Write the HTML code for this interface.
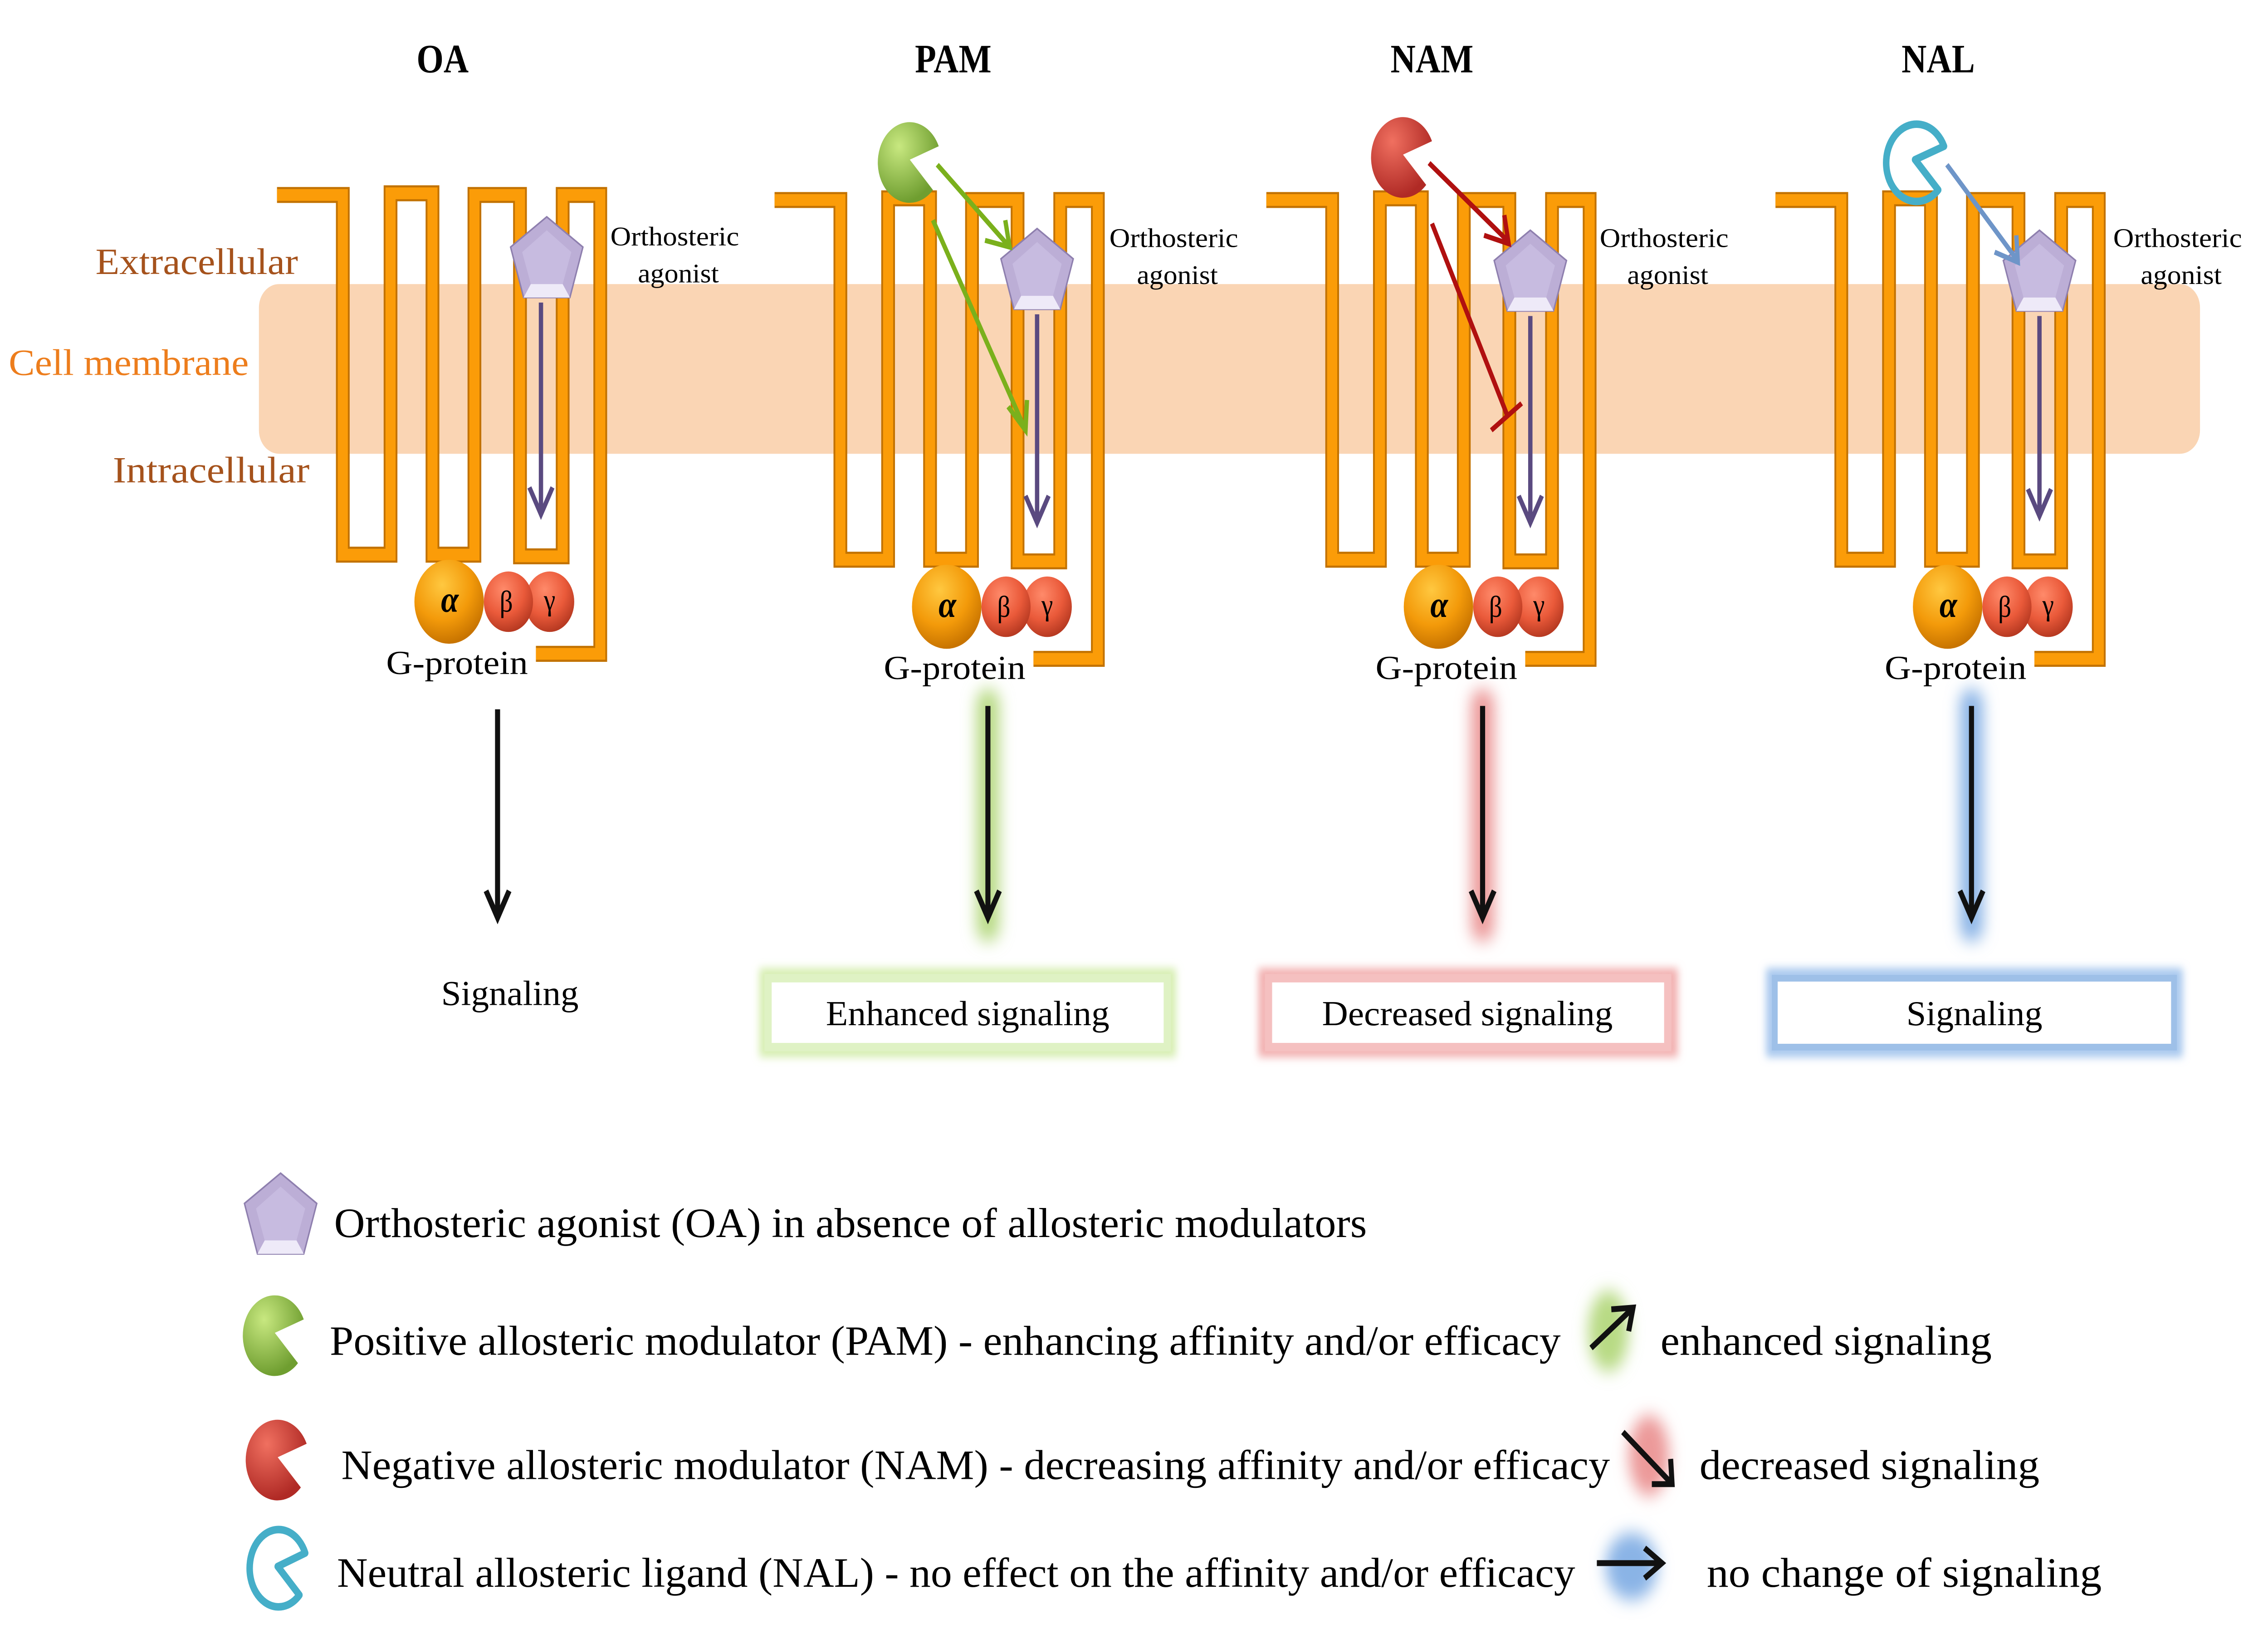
<!DOCTYPE html>
<html><head><meta charset="utf-8"><style>html,body{margin:0;padding:0;background:#fff;overflow:hidden;width:100%;height:100%}svg{display:block;width:100vw;height:100vh}</style></head>
<body>
<svg viewBox="0 0 1568 980.5" preserveAspectRatio="none" xmlns="http://www.w3.org/2000/svg" font-family="'Liberation Serif', serif">
<defs>
<filter id="blur" x="-50%" y="-50%" width="200%" height="200%"><feGaussianBlur stdDeviation="5"/></filter>
<filter id="blur2" x="-50%" y="-50%" width="200%" height="200%"><feGaussianBlur stdDeviation="2.5"/></filter>
<radialGradient id="ga" cx="40%" cy="30%" r="70%"><stop offset="0" stop-color="#ffc840"/><stop offset="0.6" stop-color="#f39a0a"/><stop offset="1" stop-color="#c87400"/></radialGradient>
<radialGradient id="gb" cx="40%" cy="30%" r="70%"><stop offset="0" stop-color="#ff8a6a"/><stop offset="0.6" stop-color="#ea5a3a"/><stop offset="1" stop-color="#b83a22"/></radialGradient>
<radialGradient id="gg" cx="35%" cy="30%" r="70%"><stop offset="0" stop-color="#c8e880"/><stop offset="1" stop-color="#6f9e30"/></radialGradient>
<radialGradient id="gr" cx="35%" cy="30%" r="70%"><stop offset="0" stop-color="#f07060"/><stop offset="1" stop-color="#b02a25"/></radialGradient>
<g id="rec">
<polyline points="191.5,116 237,116 237,330 270,330 270,115 299,115 299,330 328,330 328,116 359.5,116 359.5,331 389,331 389,116 415,116 415,389 370.5,389" fill="none" stroke="#c27200" stroke-width="9.5" stroke-linejoin="miter"/>
<polyline points="191.5,116 237,116 237,330 270,330 270,115 299,115 299,330 328,330 328,116 359.5,116 359.5,331 389,331 389,116 415,116 415,389 370.5,389" fill="none" stroke="#fb9c08" stroke-width="7" stroke-linejoin="miter"/>
<ellipse cx="380" cy="358" rx="17" ry="18" fill="url(#gb)"/>
<ellipse cx="351.5" cy="358" rx="17" ry="18" fill="url(#gb)"/>
<ellipse cx="310.5" cy="358" rx="24" ry="25" fill="url(#ga)"/>
</g>
<g id="pent">
<polygon points="0,0 25,18 16,48 -16,48 -25,18" fill="#bcaed6" stroke="#8e7fae" stroke-width="1"/>
<polygon points="0,8 17,21 11,40 -11,40 -17,21" fill="#c7bbe0"/>
<polygon points="-11,40 11,40 16,48 -16,48" fill="#eeeaf8"/>
</g>
</defs>

<rect x="179" y="169" width="1342" height="101" rx="14" fill="#fad5b4"/>

<g font-weight="bold" font-size="24" text-anchor="middle">
<text x="306" y="43">OA</text><text x="659" y="43">PAM</text><text x="990" y="43">NAM</text><text x="1340" y="43">NAL</text>
</g>
<text x="66" y="163" font-size="22" fill="#a5521c" textLength="140" lengthAdjust="spacingAndGlyphs">Extracellular</text>
<text x="6" y="223" font-size="22" fill="#ed7d1c" textLength="166" lengthAdjust="spacingAndGlyphs">Cell membrane</text>
<text x="78" y="287" font-size="22" fill="#a5521c" textLength="136" lengthAdjust="spacingAndGlyphs">Intracellular</text>

<use href="#rec"/>
<use href="#rec" transform="translate(344,3)"/>
<use href="#rec" transform="translate(684,3)"/>
<use href="#rec" transform="translate(1036,3)"/>

<g font-size="22" font-style="italic" font-weight="bold" text-anchor="middle">
<text x="311" y="364">α</text><text x="655" y="367">α</text><text x="995" y="367">α</text><text x="1347" y="367">α</text>
</g>
<g font-size="18" text-anchor="middle">
<text x="350" y="364">β</text><text x="380" y="363">γ</text>
<text x="694" y="367">β</text><text x="724" y="366">γ</text>
<text x="1034" y="367">β</text><text x="1064" y="366">γ</text>
<text x="1386" y="367">β</text><text x="1416" y="366">γ</text>
</g>
<g font-size="20">
<text x="267" y="401" textLength="98" lengthAdjust="spacingAndGlyphs">G-protein</text>
<text x="611" y="404" textLength="98" lengthAdjust="spacingAndGlyphs">G-protein</text>
<text x="951" y="404" textLength="98" lengthAdjust="spacingAndGlyphs">G-protein</text>
<text x="1303" y="404" textLength="98" lengthAdjust="spacingAndGlyphs">G-protein</text>
</g>
<g font-size="16">
<text x="422" y="146" textLength="89" lengthAdjust="spacingAndGlyphs">Orthosteric</text><text x="441" y="168" textLength="56" lengthAdjust="spacingAndGlyphs">agonist</text>
<text x="767" y="147" textLength="89" lengthAdjust="spacingAndGlyphs">Orthosteric</text><text x="786" y="169" textLength="56" lengthAdjust="spacingAndGlyphs">agonist</text>
<text x="1106" y="147" textLength="89" lengthAdjust="spacingAndGlyphs">Orthosteric</text><text x="1125" y="169" textLength="56" lengthAdjust="spacingAndGlyphs">agonist</text>
<text x="1461" y="147" textLength="89" lengthAdjust="spacingAndGlyphs">Orthosteric</text><text x="1480" y="169" textLength="56" lengthAdjust="spacingAndGlyphs">agonist</text>
</g>

<g stroke="#5a4a80" stroke-width="3" fill="none">
<line x1="374" y1="180" x2="374" y2="305"/><polyline points="366,290 374,306 382,290"/>
<line x1="717" y1="187" x2="717" y2="310"/><polyline points="709,295 717,311 725,295"/>
<line x1="1058" y1="188" x2="1058" y2="310"/><polyline points="1050,295 1058,311 1066,295"/>
<line x1="1410" y1="188" x2="1410" y2="306"/><polyline points="1402,291 1410,307 1418,291"/>
</g>
<use href="#pent" transform="translate(378,129)"/>
<use href="#pent" transform="translate(717,136)"/>
<use href="#pent" transform="translate(1058,137)"/>
<use href="#pent" transform="translate(1410,137)"/>

<path d="M629,95 L649,87 A22,24 0 1 0 645,113 Z" fill="url(#gg)"/>
<path d="M970,92 L990,84 A22,24 0 1 0 986,110 Z" fill="url(#gr)"/>
<path d="M1324,95 L1344,87 A21,23 0 1 0 1340,113 Z" fill="none" stroke="#45aec8" stroke-width="4.5" stroke-linejoin="round"/>

<g stroke="#7ab01c" stroke-width="3" fill="none">
<line x1="648" y1="98" x2="697" y2="146"/><polyline points="681,143 698,147 695,131"/>
<line x1="645" y1="131" x2="708" y2="254"/><polyline points="697,242 709,256 710,238"/>
</g>
<g stroke="#b01010" stroke-width="3" fill="none">
<line x1="988" y1="97" x2="1042" y2="143"/><polyline points="1026,140 1043,145 1040,128"/>
<line x1="990" y1="133" x2="1042" y2="247"/><line x1="1031" y1="256" x2="1052" y2="240"/>
</g>
<g stroke="#6e95c8" stroke-width="3" fill="none">
<line x1="1346" y1="98" x2="1394" y2="154"/><polyline points="1379,150 1395,156 1394,140"/>
</g>

<g filter="url(#blur)" stroke-width="16" stroke-linecap="round">
<line x1="683" y1="418" x2="683" y2="552" stroke="#b8da84"/>
<line x1="1025" y1="418" x2="1025" y2="552" stroke="#ec9a9a"/>
<line x1="1363" y1="418" x2="1363" y2="552" stroke="#8ab4e6"/>
</g>
<g stroke="#111" stroke-width="3.5" fill="none">
<line x1="344" y1="422" x2="344" y2="546"/><polyline points="336,530 344,546 352,530"/>
<line x1="683" y1="420" x2="683" y2="546"/><polyline points="675,530 683,546 691,530"/>
<line x1="1025" y1="420" x2="1025" y2="546"/><polyline points="1017,530 1025,546 1033,530"/>
<line x1="1363" y1="420" x2="1363" y2="546"/><polyline points="1355,530 1363,546 1371,530"/>
</g>

<text x="305" y="598" font-size="21" textLength="95" lengthAdjust="spacingAndGlyphs">Signaling</text>
<rect x="529" y="580" width="280" height="45" fill="none" stroke="#d6eeb0" stroke-width="8" filter="url(#blur2)"/>
<rect x="531" y="582" width="276" height="41" fill="#fff" stroke="#dff2c4" stroke-width="5"/>
<text x="571" y="610" font-size="21" textLength="196" lengthAdjust="spacingAndGlyphs">Enhanced signaling</text>
<rect x="874" y="580" width="282" height="45" fill="none" stroke="#f2b0b0" stroke-width="8" filter="url(#blur2)"/>
<rect x="877" y="582" width="276" height="41" fill="#fff" stroke="#f5c0c0" stroke-width="5"/>
<text x="914" y="610" font-size="21" textLength="201" lengthAdjust="spacingAndGlyphs">Decreased signaling</text>
<rect x="1225" y="580" width="280" height="45" fill="none" stroke="#a8c8ee" stroke-width="8" filter="url(#blur2)"/>
<rect x="1227" y="582" width="276" height="41" fill="#fff" stroke="#9ec0e8" stroke-width="4"/>
<text x="1318" y="610" font-size="21" textLength="94" lengthAdjust="spacingAndGlyphs">Signaling</text>

<use href="#pent" transform="translate(194,698)"/>
<text x="231" y="736" font-size="25" textLength="714" lengthAdjust="spacingAndGlyphs">Orthosteric agonist (OA) in absence of allosteric modulators</text>
<path d="M190,793 L210,785 A22,24 0 1 0 206,811 Z" fill="url(#gg)"/>
<text x="228" y="806" font-size="25" textLength="851" lengthAdjust="spacingAndGlyphs">Positive allosteric modulator (PAM) - enhancing affinity and/or efficacy</text>
<path d="M192,867 L212,859 A22,24 0 1 0 208,885 Z" fill="url(#gr)"/>
<text x="236" y="880" font-size="25" textLength="877" lengthAdjust="spacingAndGlyphs">Negative allosteric modulator (NAM) - decreasing affinity and/or efficacy</text>
<path d="M192,932 L211,924 A20,23 0 1 0 207,949 Z" fill="none" stroke="#45aec8" stroke-width="4.5" stroke-linejoin="round"/>
<text x="233" y="944" font-size="25" textLength="856" lengthAdjust="spacingAndGlyphs">Neutral allosteric ligand (NAL) - no effect on the affinity and/or efficacy</text>

<g filter="url(#blur)">
<ellipse cx="1112" cy="792" rx="14" ry="24" fill="#b8da84"/>
<ellipse cx="1140" cy="866" rx="14" ry="24" fill="#ec9a9a"/>
<ellipse cx="1128" cy="932" rx="18" ry="20" fill="#8ab4e6"/>
</g>
<g stroke="#111" stroke-width="3.5" fill="none">
<line x1="1100" y1="802" x2="1128" y2="779"/><polyline points="1114,779 1129,778 1126,792"/>
<line x1="1122" y1="852" x2="1155" y2="882"/><polyline points="1155,868 1156,883 1142,883"/>
<line x1="1104" y1="930" x2="1148" y2="930"/><polyline points="1137,921 1149,930 1137,939"/>
</g>
<g font-size="25">
<text x="1148" y="806" textLength="229" lengthAdjust="spacingAndGlyphs">enhanced signaling</text>
<text x="1175" y="880" textLength="235" lengthAdjust="spacingAndGlyphs">decreased signaling</text>
<text x="1180" y="944" textLength="273" lengthAdjust="spacingAndGlyphs">no change of  signaling</text>
</g>
</svg>
</body></html>
